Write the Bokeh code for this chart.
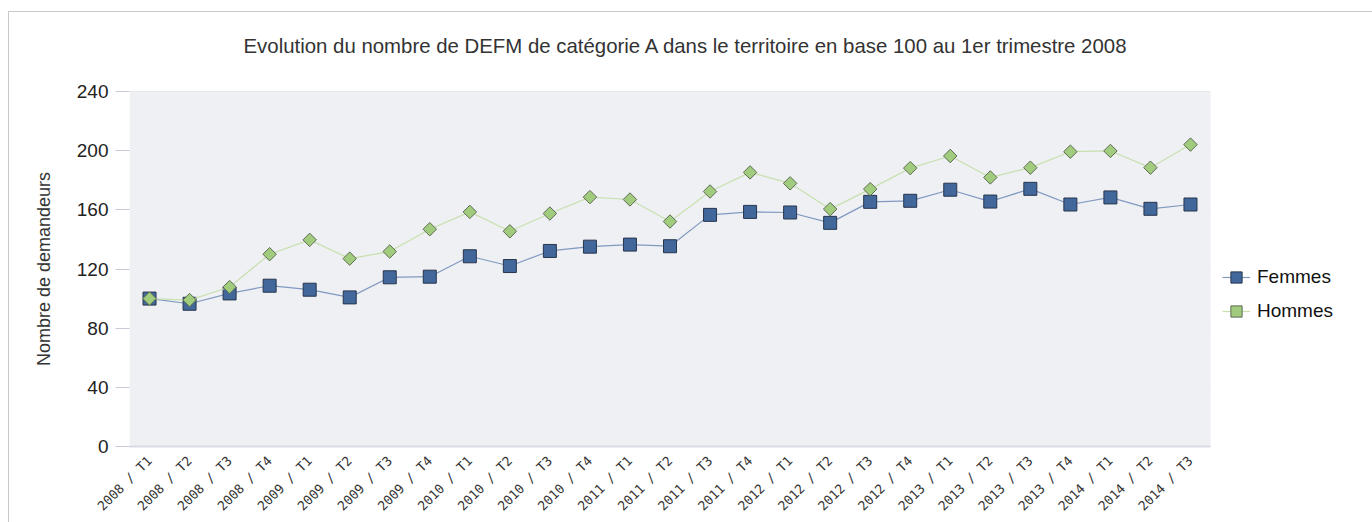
import math
from bokeh.plotting import figure
from bokeh.models import Range1d, Legend, LegendItem, FixedTicker, BoxAnnotation
from bokeh.embed import file_html
from bokeh.resources import INLINE

periodes = ["2008 / T1", "2008 / T2", "2008 / T3", "2008 / T4",
            "2009 / T1", "2009 / T2", "2009 / T3", "2009 / T4",
            "2010 / T1", "2010 / T2", "2010 / T3", "2010 / T4",
            "2011 / T1", "2011 / T2", "2011 / T3", "2011 / T4",
            "2012 / T1", "2012 / T2", "2012 / T3", "2012 / T4",
            "2013 / T1", "2013 / T2", "2013 / T3", "2013 / T4",
            "2014 / T1", "2014 / T2", "2014 / T3"]
femmes = [100, 96.5, 103.5, 108.7, 106, 100.8, 114.4, 114.8, 128.6, 122, 132.2, 135.1,
          136.5, 135.4, 156.6, 158.6, 158.2, 151.2, 165.4, 166.1, 173.6, 165.6, 174.2,
          163.6, 168.4, 160.7, 163.6]
hommes = [100, 99, 107.8, 130, 139.7, 127, 131.8, 146.9, 158.6, 145.5, 157.5, 168.6,
          167, 152.1, 172.4, 185.3, 177.9, 160.5, 174, 188.2, 196.4, 181.9, 188.5,
          199.3, 199.8, 188.5, 204.1]
y_ticks = [0, 40, 80, 120, 160, 200, 240]

TITLE = "Evolution du nombre de DEFM de catégorie A dans le territoire en base 100 au 1er trimestre 2008"
FONT = "Liberation Sans"

n = len(periodes)
xs = list(range(n))
x_lo, x_hi = -0.5, n - 0.5
W, H = 1372, 522
LEFT, TOP, BOTTOM = 129, 91, 76
px_per_unit = 1081 / n
x_end = x_lo + (W - LEFT) / px_per_unit

p = figure(width=W, height=H, output_backend="svg", toolbar_location=None,
           x_range=Range1d(x_lo, x_end), y_range=Range1d(0, 240),
           min_border_left=LEFT, min_border_right=0, min_border_top=TOP,
           min_border_bottom=BOTTOM, title=TITLE)
p.border_fill_color = None
p.background_fill_color = None
p.styles = {
    "background": "linear-gradient(#c8c8c8,#c8c8c8) 8px 11px / 1px 100% no-repeat, "
                  "linear-gradient(#c8c8c8,#c8c8c8) 8px 11px / 100% 1px no-repeat, white"
}
p.outline_line_color = None

p.title.text_font = FONT
p.title.text_font_size = "20.4px"
p.title.text_font_style = "normal"
p.title.text_color = "#333333"
p.title.align = "left"
p.title.offset = 114
p.title.vertical_align = "top"
p.title.standoff = 66

# plot area background and horizontal grid lines, limited to the data area
p.add_layout(BoxAnnotation(left=x_lo, right=x_hi, bottom=0, top=240,
                           fill_color="#eff0f4", fill_alpha=1, line_color=None,
                           level="underlay"))
p.segment(x0=[x_lo] * len(y_ticks), x1=[x_hi] * len(y_ticks), y0=y_ticks, y1=y_ticks,
          line_color="#c9cad9", line_width=1, level="underlay")
p.xgrid.grid_line_color = None
p.ygrid.grid_line_color = None

p.yaxis.ticker = FixedTicker(ticks=y_ticks)
p.yaxis.axis_line_color = None
p.yaxis.major_tick_line_color = "#c9cad9"
p.yaxis.major_tick_out = 14
p.yaxis.major_tick_in = 0
p.yaxis.minor_tick_line_color = None
p.yaxis.major_label_text_font = FONT
p.yaxis.major_label_text_font_size = "19px"
p.yaxis.major_label_text_color = "#222222"
p.yaxis.major_label_standoff = 7
p.yaxis.axis_label = "Nombre de demandeurs"
p.yaxis.axis_label_text_font = FONT
p.yaxis.axis_label_text_font_size = "18px"
p.yaxis.axis_label_text_font_style = "normal"
p.yaxis.axis_label_text_color = "#333333"
p.yaxis.axis_label_standoff = 20

p.xaxis.ticker = FixedTicker(ticks=xs)
p.xaxis.major_label_overrides = {i: lab for i, lab in enumerate(periodes)}
p.xaxis.bounds = (x_lo, x_hi)
p.xaxis.axis_line_color = "#d9dae3"
p.xaxis.axis_line_width = 2
p.xaxis.major_tick_line_color = None
p.xaxis.minor_tick_line_color = None
p.xaxis.major_label_orientation = math.pi / 4
p.xaxis.major_label_text_font = "DejaVu Sans Mono"
p.xaxis.major_label_text_font_size = "13px"
p.xaxis.major_label_text_color = "#333333"
p.xaxis.major_label_standoff = 6

lf = p.line(xs, femmes, line_color="#8099c0", line_width=1.2)
sf = p.scatter(xs, femmes, marker="square", size=13, fill_color="#41679b",
               line_color="#26364d", line_width=1)
lh = p.line(xs, hommes, line_color="#c8e0ae", line_width=1.2)
sh = p.scatter(xs, hommes, marker="square", angle=math.pi / 4, size=9.5,
               fill_color="#a2cc7d", line_color="#5d6b55", line_width=1)

legend = Legend(items=[LegendItem(label="Femmes", renderers=[lf, sf]),
                       LegendItem(label="Hommes", renderers=[lh, sh])],
                location=(1093, 120))
legend.label_text_font = FONT
legend.label_text_font_size = "19px"
legend.label_text_color = "#111111"
legend.glyph_width = 28
legend.glyph_height = 30
legend.label_height = 20
legend.label_standoff = 7
legend.spacing = 4
legend.padding = 6
legend.margin = 0
legend.border_line_color = None
legend.background_fill_alpha = 0
p.add_layout(legend, "center")

open("out.html", "w").write(file_html(p, INLINE))
